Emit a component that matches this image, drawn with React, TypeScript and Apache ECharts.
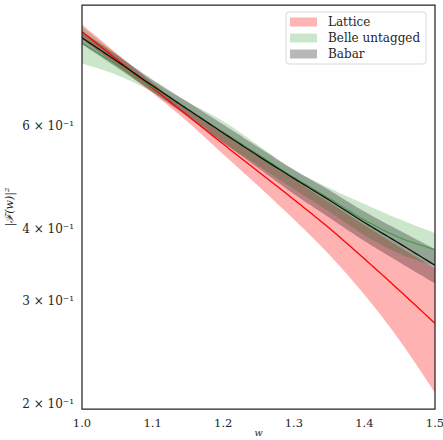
import React, { useEffect, useRef } from "react";
import * as echarts from "echarts";

const W = [1.0, 1.05, 1.1, 1.15, 1.2, 1.25, 1.3, 1.35, 1.4, 1.45, 1.5];

const latticeCentral = [0.872, 0.78, 0.698, 0.625, 0.559, 0.501, 0.449, 0.401, 0.355, 0.313, 0.275];
const latticeLower = [0.847, 0.762, 0.684, 0.61, 0.537, 0.473, 0.415, 0.361, 0.308, 0.257, 0.209];
const latticeUpper = [0.897, 0.799, 0.712, 0.64, 0.582, 0.531, 0.486, 0.444, 0.406, 0.372, 0.342];

const belleCentral = [0.834, 0.763, 0.7, 0.641, 0.586, 0.536, 0.49, 0.451, 0.414, 0.386, 0.368];
const belleLower = [0.769, 0.734, 0.686, 0.625, 0.562, 0.513, 0.468, 0.428, 0.39, 0.362, 0.345];
const belleUpper = [0.89, 0.795, 0.718, 0.66, 0.612, 0.556, 0.505, 0.47, 0.441, 0.415, 0.393];

const babarCentral = [0.851, 0.775, 0.704, 0.641, 0.584, 0.533, 0.488, 0.448, 0.41, 0.377, 0.346];
const babarLower = [0.829, 0.756, 0.687, 0.622, 0.562, 0.508, 0.459, 0.418, 0.381, 0.35, 0.322];
const babarUpper = [0.873, 0.794, 0.721, 0.66, 0.604, 0.552, 0.505, 0.466, 0.428, 0.397, 0.369];

const xTicks = [1.0, 1.1, 1.2, 1.3, 1.4, 1.5];
const yTickValues = [0.2, 0.3, 0.4, 0.6];
const yTickLabels = ["2 × 10⁻¹", "3 × 10⁻¹", "4 × 10⁻¹", "6 × 10⁻¹"];

const Y_MIN = 0.196;
const Y_MAX = 0.969;

const lg = (v: number) => Math.log10(v);
const FONT = "DejaVu Serif";

type Pt = number[];

// Catmull-Rom smoothing of pixel points (rendering only)
function smoothPts(pts: Pt[], steps = 10): Pt[] {
  const out: Pt[] = [];
  const n = pts.length;
  for (let i = 0; i < n - 1; i++) {
    const p0 = pts[Math.max(0, i - 1)];
    const p1 = pts[i];
    const p2 = pts[i + 1];
    const p3 = pts[Math.min(n - 1, i + 2)];
    const c1 = [p1[0] + (p2[0] - p0[0]) / 6, p1[1] + (p2[1] - p0[1]) / 6];
    const c2 = [p2[0] - (p3[0] - p1[0]) / 6, p2[1] - (p3[1] - p1[1]) / 6];
    for (let s = 0; s < steps; s++) {
      const t = s / steps;
      const u = 1 - t;
      out.push([
        u * u * u * p1[0] + 3 * u * u * t * c1[0] + 3 * u * t * t * c2[0] + t * t * t * p2[0],
        u * u * u * p1[1] + 3 * u * u * t * c1[1] + 3 * u * t * t * c2[1] + t * t * t * p2[1],
      ]);
    }
  }
  out.push(pts[n - 1]);
  return out;
}

function band(name: string, lower: number[], upper: number[], fill: string, z: number) {
  return {
    name,
    type: "custom",
    silent: true,
    z,
    clip: true,
    itemStyle: { color: fill },
    data: W.map((w, i) => [w, lg(lower[i]), lg(upper[i])]),
    encode: { x: 0, y: [1, 2] },
    renderItem: (params: any, api: any) => {
      if (params.dataIndex !== 0) return null;
      const up = smoothPts(W.map((w, i) => api.coord([w, lg(upper[i])])));
      const lo = smoothPts(W.map((w, i) => api.coord([w, lg(lower[i])])));
      return {
        type: "polygon",
        shape: { points: up.concat(lo.reverse()) },
        style: { fill, stroke: "none" },
      };
    },
  };
}

function centralLine(name: string, values: number[], color: string, width: number, z: number) {
  return {
    name,
    type: "custom",
    silent: true,
    z,
    clip: true,
    data: W.map((w, i) => [w, lg(values[i])]),
    encode: { x: 0, y: 1 },
    renderItem: (params: any, api: any) => {
      if (params.dataIndex !== 0) return null;
      const pts = smoothPts(W.map((w, i) => api.coord([w, lg(values[i])])));
      return {
        type: "polyline",
        shape: { points: pts },
        style: { stroke: color, lineWidth: width, fill: "none" },
      };
    },
  };
}

export default function App() {
  const ref = useRef<HTMLDivElement>(null);
  useEffect(() => {
    if (!ref.current) return;
    const chart = echarts.init(ref.current, undefined, { renderer: "svg" });
    chart.setOption({
      animation: false,
      backgroundColor: "#ffffff",
      grid: {
        left: 82,
        right: 8,
        top: 5,
        bottom: 31,
        containLabel: false,
        outerBoundsMode: "none",
        show: true,
        borderColor: "#262626",
        borderWidth: 1.25,
        backgroundColor: "transparent",
        z: 10,
      },
      legend: {
        left: 286,
        top: 12,
        orient: "vertical",
        selectedMode: false,
        backgroundColor: "#ffffff",
        borderColor: "#d8d8d8",
        borderWidth: 1,
        borderRadius: 3,
        padding: [4, 6, 4, 4],
        itemGap: 4,
        itemWidth: 27,
        itemHeight: 9,
        textStyle: { fontFamily: FONT, fontSize: 12, color: "#262626", padding: [0, 0, 0, 6] },
        data: [
          { name: "Lattice", icon: "rect", itemStyle: { color: "#ffb3b3" } },
          { name: "Belle untagged", icon: "rect", itemStyle: { color: "#cce6cc" } },
          { name: "Babar", icon: "rect", itemStyle: { color: "#b8b8b8" } },
        ],
      },
      xAxis: {
        type: "value",
        min: 1.0,
        max: 1.5,
        interval: 0.1,
        name: "w",
        nameLocation: "middle",
        nameGap: 18,
        nameMoveOverlap: false,
        nameTextStyle: { fontFamily: FONT, fontStyle: "italic", fontSize: 9.5, color: "#262626", lineHeight: 10 },
        axisLine: { show: false },
        axisTick: { show: false },
        splitLine: { show: false },
        axisLabel: {
          fontFamily: FONT,
          fontSize: 11.5,
          color: "#262626",
          margin: 8,
          customValues: xTicks,
          formatter: (v: number) => v.toFixed(1),
        },
      },
      yAxis: {
        type: "value",
        min: lg(Y_MIN),
        max: lg(Y_MAX),
        name: "|ℱ(w)|²",
        nameLocation: "middle",
        nameRotate: 90,
        nameGap: 67,
        nameMoveOverlap: false,
        nameTextStyle: { fontFamily: FONT, fontStyle: "italic", fontSize: 11, color: "#262626" },
        axisLine: { show: false },
        axisTick: { show: false },
        splitLine: { show: false },
        axisLabel: {
          fontFamily: FONT,
          fontSize: 12,
          color: "#262626",
          margin: 8,
          customValues: yTickValues.map(lg),
          formatter: (v: number) => {
            let best = 0;
            let d = Infinity;
            yTickValues.forEach((t, i) => {
              const dd = Math.abs(lg(t) - v);
              if (dd < d) {
                d = dd;
                best = i;
              }
            });
            return yTickLabels[best];
          },
        },
      },
      series: [
        band("Lattice", latticeLower, latticeUpper, "rgba(255,0,0,0.3)", 1),
        band("Belle untagged", belleLower, belleUpper, "rgba(0,128,0,0.2)", 2),
        band("Babar", babarLower, babarUpper, "rgba(0,0,0,0.28)", 3),
        centralLine("Lattice central", latticeCentral, "#ff0000", 1.3, 4),
        centralLine("Belle central", belleCentral, "#3c9c46", 1.1, 4),
        centralLine("Babar central", babarCentral, "#111111", 1.3, 5),
      ],
    });
    return () => chart.dispose();
  }, []);
  return <div ref={ref} style={{ position: "fixed", left: 0, top: 0, width: 443, height: 440 }} />;
}
